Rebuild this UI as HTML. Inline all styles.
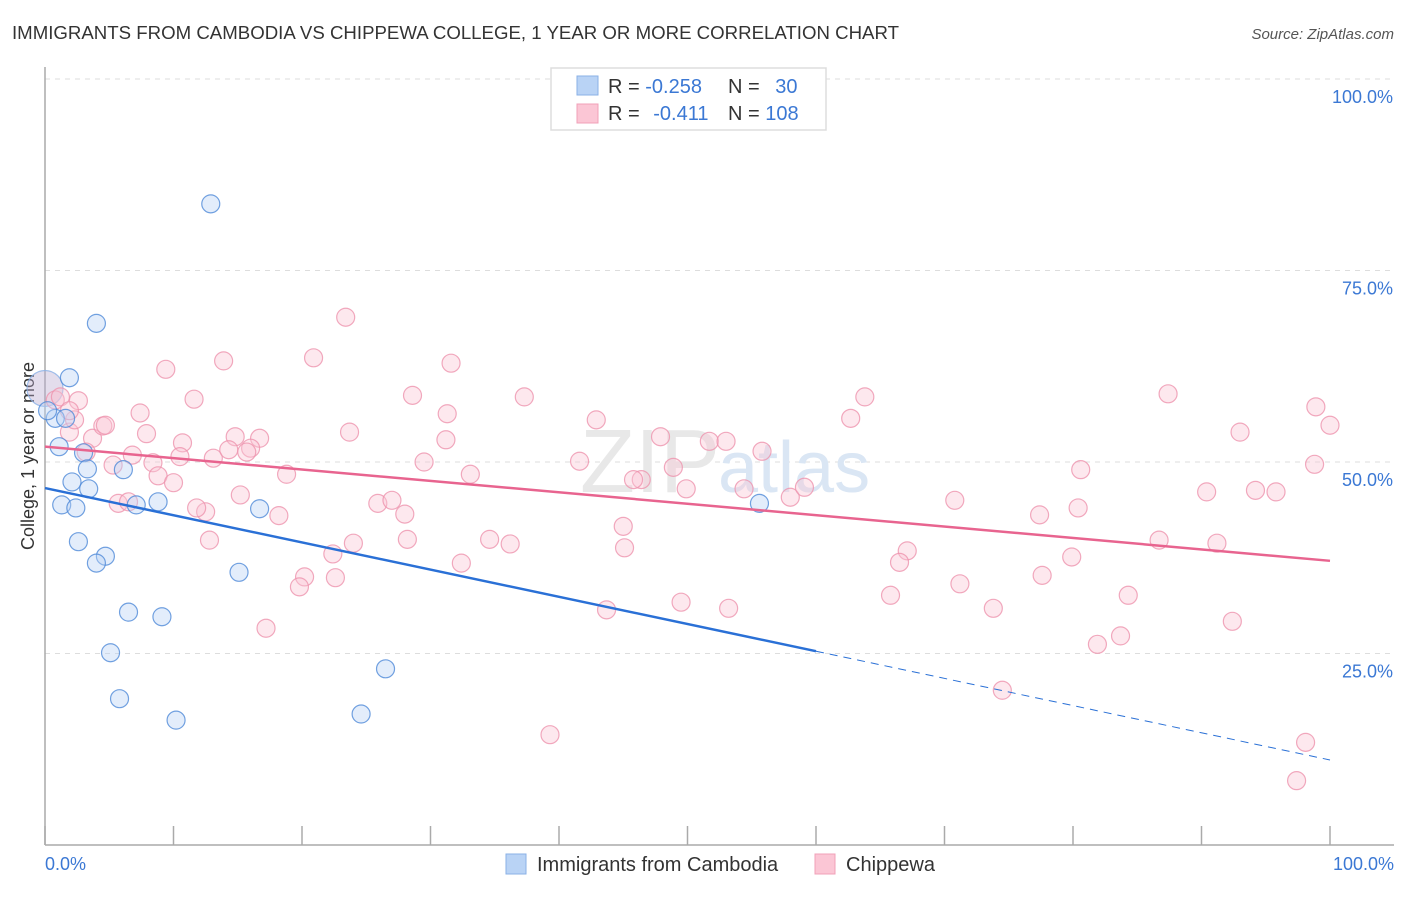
<!DOCTYPE html>
<html><head><meta charset="utf-8"><style>
body{margin:0;background:#fff;font-family:"Liberation Sans",sans-serif;}
svg text{font-family:"Liberation Sans",sans-serif;}
</style></head><body>
<svg id="chart" width="1406" height="892" xmlns="http://www.w3.org/2000/svg">
<text x="12" y="39" font-size="18" fill="#333" textLength="887" lengthAdjust="spacingAndGlyphs">IMMIGRANTS FROM CAMBODIA VS CHIPPEWA COLLEGE, 1 YEAR OR MORE CORRELATION CHART</text>
<text x="1394" y="39" font-size="15" fill="#555" text-anchor="end" font-style="italic">Source: ZipAtlas.com</text>
<text transform="translate(34,456) rotate(-90)" font-size="18" fill="#333" text-anchor="middle">College, 1 year or more</text>
<g id="grid"></g>
<g id="axes"></g>
<text x="720" y="492" font-size="90" fill="#e8e8e8" text-anchor="end" font-family="Liberation Serif">ZIP</text>
<text x="718" y="492" font-size="72" fill="#dae6f4">atlas</text>
<g id="marks"></g>
<g>
<rect x="551" y="68" width="275" height="62" fill="#fff" stroke="#ddd" stroke-width="1.5"/>
<rect x="577" y="76" width="21" height="19" fill="#b9d3f5" stroke="#8ab0e6"/>
<rect x="577" y="104" width="21" height="19" fill="#fbc6d5" stroke="#f0a0b8"/>
<text x="608" y="93" font-size="20" fill="#333">R = <tspan fill="#3b78d4">-0.258</tspan></text>
<text x="728" y="93" font-size="20" fill="#333">N = <tspan fill="#3b78d4" dx="10">30</tspan></text>
<text x="608" y="120" font-size="20" fill="#333">R = <tspan fill="#3b78d4" dx="8">-0.411</tspan></text>
<text x="728" y="120" font-size="20" fill="#333">N = <tspan fill="#3b78d4">108</tspan></text>
</g>
<g>
<rect x="506" y="854" width="20" height="20" fill="#b9d3f5" stroke="#8ab0e6"/>
<text x="537" y="871" font-size="20" fill="#333">Immigrants from Cambodia</text>
<rect x="815" y="854" width="20" height="20" fill="#fbc6d5" stroke="#f0a0b8"/>
<text x="846" y="871" font-size="20" fill="#333">Chippewa</text>
</g>
</svg>
<script>
const yTicks=[25,50,75,100];
const yTickLabels=["25.0%","50.0%","75.0%","100.0%"];
const xTickLabels=["0.0%","100.0%"];
const blueX=[12.9,4.0,1.9,0.8,1.6,1.1,3.0,3.3,6.1,2.1,3.4,1.3,2.4,7.1,8.8,16.7,2.6,4.7,4.0,15.1,6.5,9.1,5.1,26.5,5.8,10.2,24.6,55.6,0.2];
const blueY=[83.7,68.1,61.0,55.7,55.7,52.0,51.2,49.1,49.0,47.4,46.5,44.4,44.0,44.4,44.8,43.9,39.6,37.7,36.8,35.6,30.4,29.8,25.1,23.0,19.1,16.3,17.1,44.6,56.7];
const pinkX=[0.8,1.2,2.6,1.9,2.3,3.7,3.2,4.5,4.7,7.4,7.9,9.4,10.7,11.6,13.9,14.8,16.7,20.9,23.4,23.7,31.6,28.6,31.3,31.2,29.5,33.1,37.3,42.9,41.6,47.9,48.9,46.4,45.8,51.7,53.0,55.8,54.4,58.0,59.1,62.7,63.8,87.4,93.0,98.9,100,98.8,80.6,70.8,77.4,80.4,90.4,94.2,95.8,86.7,91.2,79.9,77.6,84.3,71.2,67.1,66.5,65.8,73.8,83.7,81.9,92.4,74.5,98.1,97.4,39.3,49.5,53.2,43.7,45.0,45.1,49.9,36.2,34.6,32.4,28.2,28.0,25.9,27.0,24.0,22.4,22.6,20.2,19.8,17.2,18.2,18.8,15.2,12.5,11.8,12.8,8.4,8.8,10.0,10.5,13.1,14.3,16.0,15.7,6.8,5.3,5.7,6.5,1.9];
const pinkY=[58.1,58.5,58.0,53.9,55.5,53.1,51.3,54.7,54.8,56.4,53.7,62.1,52.5,58.2,63.2,53.3,53.1,63.6,68.9,53.9,62.9,58.7,56.3,52.9,50.0,48.4,58.5,55.5,50.1,53.3,49.3,47.7,47.7,52.7,52.7,51.4,46.5,45.4,46.7,55.7,58.5,58.9,53.9,57.2,54.8,49.7,49.0,45.0,43.1,44.0,46.1,46.3,46.1,39.8,39.4,37.6,35.2,32.6,34.1,38.4,36.9,32.6,30.9,27.3,26.2,29.2,20.2,13.4,8.4,14.4,31.7,30.9,30.7,41.6,38.8,46.5,39.3,39.9,36.8,39.9,43.2,44.6,45.0,39.4,38.0,34.9,35.0,33.7,28.3,43.0,48.4,45.7,43.5,44.0,39.8,49.9,48.2,47.3,50.7,50.5,51.6,51.8,51.3,50.9,49.6,44.6,44.8,56.7];
const bigPoint=[0,59.6];
const blueTrend=[46.6,-0.355];
const pinkTrend=[52.0,-0.149];
const blueSolidEnd=60;

const X0=45,X1=1330,Y0=845,Y100=79;
const sx=v=>X0+(X1-X0)*v/100;
const sy=v=>Y0-(Y0-Y100)*v/100;
const NS="http://www.w3.org/2000/svg";
function mk(tag,attrs,parent){const e=document.createElementNS(NS,tag);for(const k in attrs)e.setAttribute(k,attrs[k]);parent.appendChild(e);return e;}
const grid=document.getElementById('grid'),axes=document.getElementById('axes'),marks=document.getElementById('marks');
yTicks.forEach((t,i)=>{
 const l=mk('line',{x1:X0,x2:1394,y1:sy(t),y2:sy(t),stroke:'#ddd','stroke-dasharray':'5,5'},grid);
 
 
 const tx=mk('text',{x:1393,y:sy(t)+24,'font-size':18,fill:'#3b78d4','text-anchor':'end'},axes);
 tx.textContent=yTickLabels[i];
 
 
});
const ay=mk('line',{x1:X0,x2:X0,y1:67,y2:Y0,stroke:'#aaa','stroke-width':1.5},axes);


const ax=mk('line',{x1:X0,x2:1394,y1:Y0,y2:Y0,stroke:'#aaa','stroke-width':1.5},axes);


for(let i=0;i<=10;i++){
 const t=mk('line',{x1:sx(i*10),x2:sx(i*10),y1:826,y2:Y0,stroke:'#aaa','stroke-width':1.5},axes);
 
 
}
[[0,'start',45],[100,'end',1394]].forEach((d,i)=>{
 const t=mk('text',{x:d[2],y:870,'font-size':18,fill:'#3b78d4','text-anchor':d[1]},axes);
 t.textContent=xTickLabels[i];
 
 
});
function dot(x,y,r,fill,stroke,name){
 const c=mk('circle',{cx:sx(x),cy:sy(y),r:r,fill:fill,'fill-opacity':0.4,stroke:stroke,'stroke-width':1.2,'stroke-opacity':0.8},marks);
 
 
}
dot(bigPoint[0],bigPoint[1],18,'#b9a9cf','#8ab0e6','cluster-point');
pinkX.forEach((x,i)=>dot(x,pinkY[i],9,'#fbc6d5','#ee93ae','chippewa-point'));
blueX.forEach((x,i)=>dot(x,blueY[i],9,'#b9d3f5','#4f8ad8','cambodia-point'));
const f=(t,x)=>t[0]+t[1]*x;
const pl=mk('line',{x1:sx(0),y1:sy(f(pinkTrend,0)),x2:sx(100),y2:sy(f(pinkTrend,100)),stroke:'#e8648f','stroke-width':2.5},marks);


const bl=mk('line',{x1:sx(0),y1:sy(f(blueTrend,0)),x2:sx(blueSolidEnd),y2:sy(f(blueTrend,blueSolidEnd)),stroke:'#2a70d6','stroke-width':2.5},marks);


const bd=mk('line',{x1:sx(blueSolidEnd),y1:sy(f(blueTrend,blueSolidEnd)),x2:sx(100),y2:sy(f(blueTrend,100)),stroke:'#2a70d6','stroke-width':1,'stroke-dasharray':'8,6'},marks);


</script>
</body></html>
